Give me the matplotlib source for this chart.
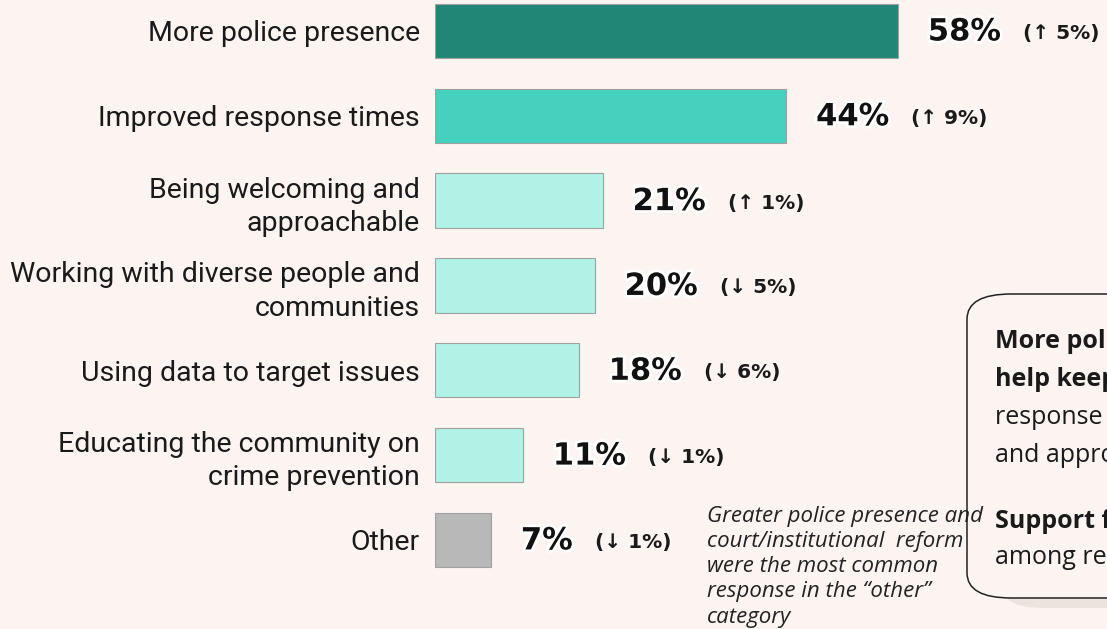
import matplotlib
matplotlib.use("Agg")
import matplotlib.pyplot as plt
import matplotlib.patheffects as pe
from matplotlib.patches import FancyBboxPatch

categories = ["More police presence", "Improved response times",
              "Being welcoming and\napproachable",
              "Working with diverse people and\ncommunities",
              "Using data to target issues",
              "Educating the community on\ncrime prevention", "Other"]
values = [58, 44, 21, 20, 18, 11, 7]
changes = ["(↑ 5%)", "(↑ 9%)", "(↑ 1%)", "(↓ 5%)", "(↓ 6%)", "(↓ 1%)", "(↓ 1%)"]
bar_colors = ["#218676", "#45D1BD", "#B0F2E6", "#B0F2E6", "#B0F2E6", "#B0F2E6", "#B8B8B8"]

note = ("Greater police presence and\ncourt/institutional  reform\n"
        "were the most common\nresponse in the \u201cother\u201d\ncategory")

BG = "#FCF4F1"
W, H = 1107, 629

fig = plt.figure(figsize=(W / 100, H / 100), dpi=100, facecolor=BG)
ax = fig.add_axes([435 / W, 0, 1 - 435 / W, 1])
ax.set_facecolor("none")

ypos = list(range(len(categories)))
ax.barh(ypos, values, height=0.64, color=bar_colors, edgecolor="#a0a0a0", linewidth=0.8)
ax.set_xlim(0, (W - 435) / 7.98)
ax.set_ylim(7.05, -0.365)

ax.set_yticks(ypos)
ax.set_yticklabels(categories, fontsize=20.5, family=["Roboto", "DejaVu Sans"],
                   color="#1a1a1a", linespacing=1.3)
ax.tick_params(axis="y", length=0, pad=11)
ax.set_xticks([])
for s in ax.spines.values():
    s.set_visible(False)

for y, v, c in zip(ypos, values, changes):
    t = ax.annotate(f"{v}%", xy=(v, y), xytext=(30, -1), textcoords="offset pixels",
                    va="center", ha="left", fontsize=22, fontweight="bold", color="#111111",
                    path_effects=[pe.withStroke(linewidth=4, foreground="white")])
    ax.annotate(c, xy=(1, 0.45), xycoords=t, xytext=(22, 0), textcoords="offset pixels",
                va="center", ha="left", fontsize=14.5, fontweight="bold", color="#1a1a1a")

# note under the chart
fig.text(707 / W, 1 - 506 / H, note, ha="left", va="top", fontsize=16, style="italic",
         family="Open Sans", color="#222222", linespacing=1.26)

# key findings box (runs off the right edge)
shadow = FancyBboxPatch((1000 / W, 1 - 608 / H), 200 / W, 300 / H,
                        boxstyle="round,pad=0,rounding_size=0.04", transform=fig.transFigure,
                        facecolor="#ECE2DE", edgecolor="none", zorder=1)
box = FancyBboxPatch((967 / W, 1 - 598 / H), 250 / W, 304 / H,
                     boxstyle="round,pad=0,rounding_size=0.04", transform=fig.transFigure,
                     facecolor=BG, edgecolor="#222222", linewidth=1.1, zorder=2)
fig.patches.extend([shadow, box])

box_lines = [("More police presence", "bold", 341), ("help keep people safe", "bold", 380),
             ("response times and being", "normal", 418), ("and approachable", "normal", 455),
             ("Support for reform", "bold", 521), ("among residents", "normal", 558)]
for txt, w, yp in box_lines:
    fig.text(995 / W, 1 - yp / H, txt, ha="left", va="center", fontsize=18, fontweight=w,
             family="Open Sans", color="#1a1a1a", zorder=3)

fig.savefig("out.png", dpi=100, facecolor=BG)
